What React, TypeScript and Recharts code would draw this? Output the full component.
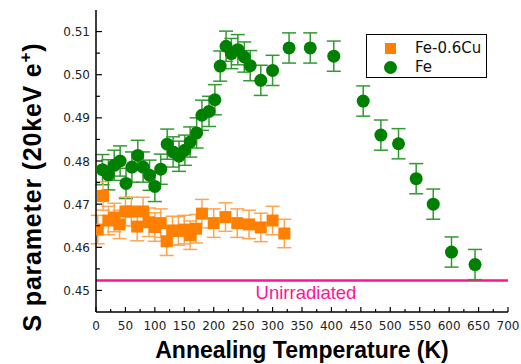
import { ScatterChart, Scatter, XAxis, YAxis, ErrorBar, ReferenceLine, Label } from 'recharts';

// Fe-0.6Cu (orange squares)
const cuTemps = [3, 12, 21, 31, 40, 50, 60, 70, 80, 90, 100, 110, 120, 130, 140, 150, 160, 170, 180, 200, 220, 240, 260, 280, 300, 320];
const cuS = [0.4641, 0.4719, 0.4662, 0.4669, 0.4653, 0.4683, 0.4683, 0.4648, 0.4683, 0.4658, 0.4647, 0.4656, 0.4614, 0.4639, 0.4638, 0.4641, 0.4628, 0.4643, 0.4678, 0.4656, 0.4670, 0.4656, 0.4653, 0.4646, 0.4662, 0.4632];
const cuErr = 0.0033;

// pure Fe (green circles)
const feTemps = [11, 21, 31, 41, 51, 61, 71, 80, 91, 100, 110, 121, 131, 141, 151, 160, 171, 180, 192, 202, 211, 221, 230, 241, 252, 262, 280, 300, 328, 364, 404, 454, 484, 514, 544, 573, 604, 644];
const feS = [0.4780, 0.4768, 0.4790, 0.4800, 0.4748, 0.4786, 0.4813, 0.4786, 0.4767, 0.4741, 0.4781, 0.4839, 0.4821, 0.4811, 0.4825, 0.4844, 0.4865, 0.4906, 0.4915, 0.4942, 0.5020, 0.5066, 0.5049, 0.5058, 0.5041, 0.5021, 0.4987, 0.5010, 0.5062, 0.5062, 0.5043, 0.4939, 0.4860, 0.4840, 0.4759, 0.4700, 0.4589, 0.4560];
const feErr = 0.0035;

const unirradiatedS = 0.4523;

const xTicks = [0, 25, 50, 75, 100, 125, 150, 175, 200, 225, 250, 275, 300, 325, 350, 375, 400, 425, 450, 475, 500, 525, 550, 575, 600, 625, 650, 675, 700];
const yTicks = [0.45, 0.455, 0.46, 0.465, 0.47, 0.475, 0.48, 0.485, 0.49, 0.495, 0.5, 0.505, 0.51];

const ORANGE = '#ff8000';
const ORANGE_BAR = '#ffa550';
const GREEN = '#008000';
const GREEN_BAR = '#339933';
const PINK = '#ff1493';
const TICK_FONT = '"DejaVu Sans", sans-serif';
const TITLE_FONT = '"Liberation Sans", Arial, sans-serif';

const cuData = cuTemps.map((t, i) => ({ t, s: cuS[i], err: cuErr }));
const feData = feTemps.map((t, i) => ({ t, s: feS[i], err: feErr }));

const XTick = (props: any) => {
  const { x, y, payload, side } = props;
  const major = payload.value % 50 === 0;
  const len = major ? 5 : 3;
  return (
    <g>
      <line x1={x} x2={x} y1={y} y2={side === 'top' ? y + len : y - len} stroke="#000" strokeWidth={1.2} />
      {side === 'bottom' && major && (
        <text x={x} y={y + 17.5} textAnchor="middle" fontSize={12} fontFamily={TICK_FONT} fill="#222">
          {payload.value}
        </text>
      )}
    </g>
  );
};

const YTick = (props: any) => {
  const { x, y, payload, side } = props;
  const major = Math.round(payload.value * 1000) % 10 === 0;
  const len = major ? 6 : 4;
  return (
    <g>
      <line x1={x} x2={side === 'right' ? x - len : x + len} y1={y} y2={y} stroke="#000" strokeWidth={1.2} />
      {side === 'left' && major && (
        <text x={x - 6} y={y + 4.5} textAnchor="end" fontSize={12} fontFamily={TICK_FONT} fill="#222">
          {payload.value.toFixed(2)}
        </text>
      )}
    </g>
  );
};

const Square = (props: any) => <rect x={props.cx - 6} y={props.cy - 6} width={12} height={12} fill={ORANGE} />;
const Circle = (props: any) => <circle cx={props.cx} cy={props.cy} r={6.5} fill={GREEN} />;

const XTitle = () => (
  <text x={302} y={358} textAnchor="middle" fontSize={23} fontWeight="bold" fontFamily={TITLE_FONT} fill="#000">
    Annealing Temperature (K)
  </text>
);

const YTitle = () => (
  <text
    transform="translate(41,187) rotate(-90)"
    textAnchor="middle"
    fontSize={25}
    fontWeight="bold"
    letterSpacing={0.8}
    fontFamily={TITLE_FONT}
    fill="#000"
  >
    S parameter (20keV e<tspan dy={-10} fontSize={17}>+</tspan>
    <tspan dy={10}>)</tspan>
  </text>
);

export default function App() {
  return (
    <div style={{ position: 'absolute', left: 0, top: 0, width: 521, height: 364, background: '#fff' }}>
      <ScatterChart width={521} height={364} margin={{ top: 10, right: 13, bottom: 12, left: 26 }}>
        <XAxis
          dataKey="t"
          type="number"
          domain={[0, 700]}
          ticks={xTicks}
          interval={0}
          allowDataOverflow
          height={40}
          tickSize={0}
          tickMargin={0}
          tickLine={false}
          axisLine={{ stroke: '#000', strokeWidth: 1.5 }}
          tick={(p: any) => <XTick {...p} side="bottom" />}
        >
          <Label content={XTitle} />
        </XAxis>
        <XAxis
          xAxisId="top"
          orientation="top"
          type="number"
          domain={[0, 700]}
          ticks={xTicks}
          interval={0}
          height={0}
          tickSize={0}
          tickMargin={0}
          tickLine={false}
          axisLine={{ stroke: '#000', strokeWidth: 1.5 }}
          tick={(p: any) => <XTick {...p} side="top" />}
        />
        <YAxis
          dataKey="s"
          type="number"
          domain={[0.445, 0.515]}
          ticks={yTicks}
          interval={0}
          allowDataOverflow
          width={70}
          tickSize={0}
          tickMargin={0}
          tickLine={false}
          axisLine={{ stroke: '#000', strokeWidth: 1.5 }}
          tick={(p: any) => <YTick {...p} side="left" />}
        >
          <Label content={YTitle} />
        </YAxis>
        <YAxis
          yAxisId="right"
          orientation="right"
          type="number"
          domain={[0.445, 0.515]}
          ticks={yTicks}
          interval={0}
          width={0}
          tickSize={0}
          tickMargin={0}
          tickLine={false}
          axisLine={{ stroke: '#000', strokeWidth: 1.5 }}
          tick={(p: any) => <YTick {...p} side="right" />}
        />
        <ReferenceLine
          y={unirradiatedS}
          stroke={PINK}
          strokeWidth={2.5}
          label={{ value: 'Unirradiated', position: 'bottom', dx: 4, fill: PINK, fontSize: 18.5, fontFamily: TITLE_FONT }}
        />
        <Scatter data={feData} shape={Circle} isAnimationActive={false}>
          <ErrorBar dataKey="err" direction="y" width={7} stroke={GREEN_BAR} strokeWidth={1.5} />
        </Scatter>
        <Scatter data={cuData} shape={Square} isAnimationActive={false}>
          <ErrorBar dataKey="err" direction="y" width={7} stroke={ORANGE_BAR} strokeWidth={1.5} />
        </Scatter>
      </ScatterChart>
      <div
        style={{
          position: 'absolute',
          left: 366,
          top: 34,
          width: 119,
          height: 42,
          border: '1px solid #000',
          background: '#fff',
          fontFamily: TICK_FONT,
          fontSize: 15,
          color: '#111',
        }}
      >
        <div style={{ position: 'absolute', left: 18, top: 8, width: 11, height: 11, background: ORANGE }} />
        <div style={{ position: 'absolute', left: 48, top: 4, lineHeight: '18px' }}>Fe-0.6Cu</div>
        <div style={{ position: 'absolute', left: 17, top: 26, width: 13, height: 13, borderRadius: '50%', background: GREEN }} />
        <div style={{ position: 'absolute', left: 48, top: 23, lineHeight: '18px' }}>Fe</div>
      </div>
    </div>
  );
}
